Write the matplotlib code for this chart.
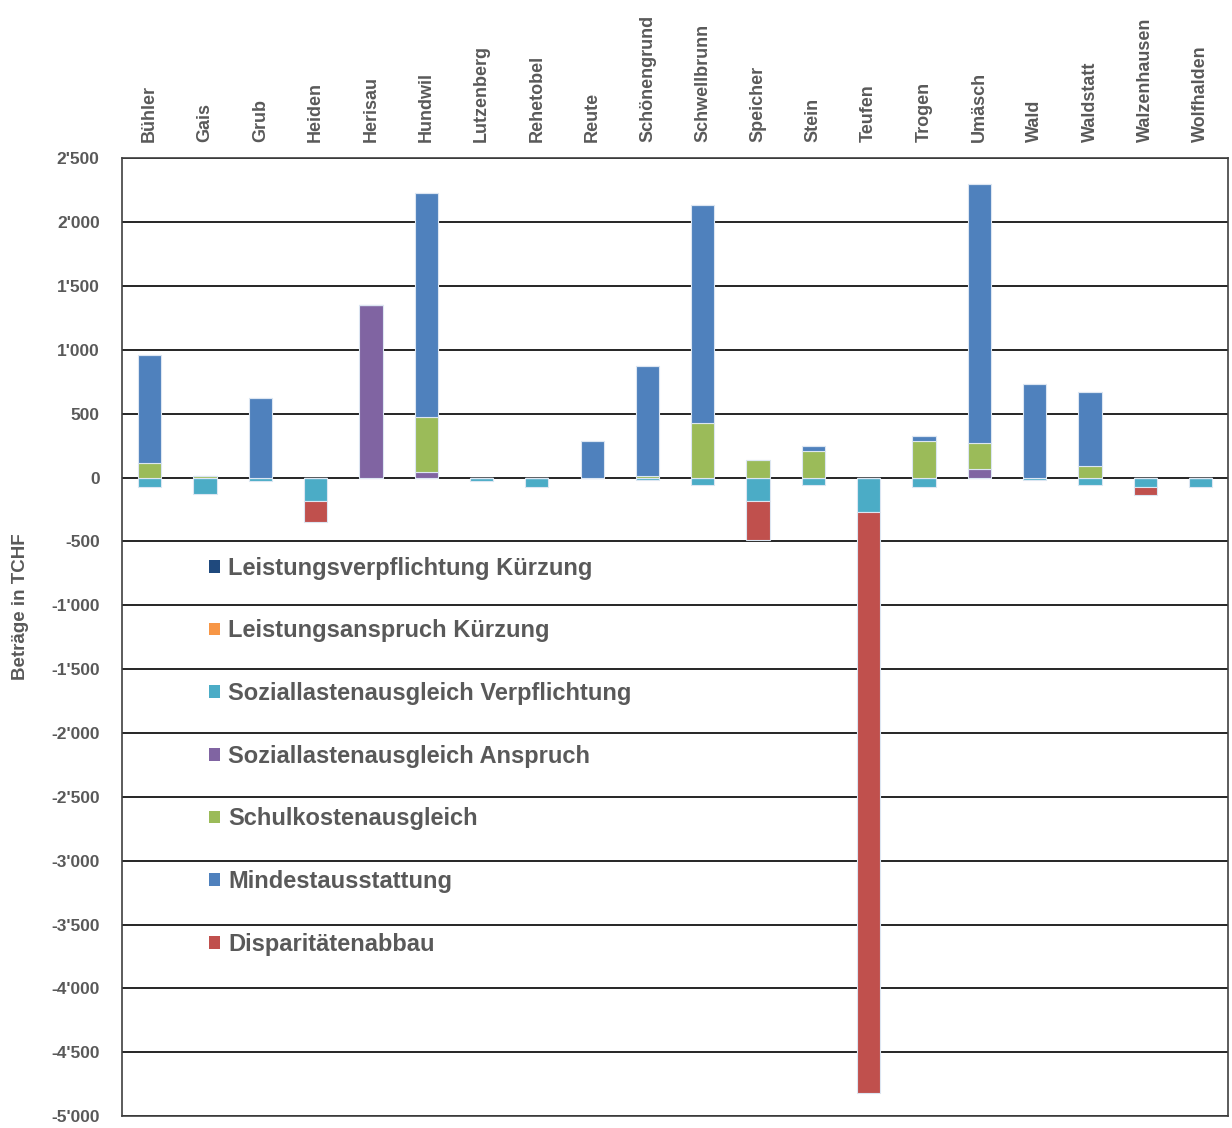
import numpy as np
import matplotlib
matplotlib.use("Agg")
import matplotlib.pyplot as plt
from matplotlib.ticker import FuncFormatter
from matplotlib.patches import Patch

plt.rcParams["font.family"] = ["Liberation Sans", "DejaVu Sans"]

gemeinden = ["Bühler", "Gais", "Grub", "Heiden", "Herisau", "Hundwil", "Lutzenberg",
             "Rehetobel", "Reute", "Schönengrund", "Schwellbrunn", "Speicher", "Stein",
             "Teufen", "Trogen", "Umäsch", "Wald", "Waldstatt", "Walzenhausen", "Wolfhalden"]

leist_verpf = [0, 0, 0, 0, 0, 0, 0, 0, 0, 0, 0, 0, 0, 0, 0, 0, 0, 0, 0, 0]
leist_anspr = [0, 0, 0, 0, 0, 0, 0, 0, 0, 0, 0, 0, 0, 0, 0, 0, 0, 0, 0, 0]
sozial_verpf = [-70, -125, -30, -180, 0, 0, -30, -70, 0, -20, -60, -180, -60, -268, -70, 0, -15, -60, -76, -70]
sozial_anspr = [0, 0, 0, 0, 1355, 40, 0, 0, 0, 0, 0, 0, 0, 0, 0, 68, 0, 0, 0, 0]
schulkosten = [115, 15, 0, 0, 0, 438, 0, 0, 0, 15, 428, 141, 206, 0, 284, 204, 0, 88, 0, 0]
mindest = [848, 0, 620, 0, 0, 1752, 0, 0, 284, 862, 1710, 0, 39, 0, 39, 2028, 734, 583, 0, 0]
disparitaet = [0, 0, 0, -165, 0, 0, 0, 0, 0, 0, 0, -305, 0, -4552, 0, 0, 0, 0, -62, 0]

serien = [
    ("Leistungsverpflichtung Kürzung", leist_verpf, "#1F497D"),
    ("Leistungsanspruch Kürzung", leist_anspr, "#F79646"),
    ("Soziallastenausgleich Verpflichtung", sozial_verpf, "#4BACC6"),
    ("Soziallastenausgleich Anspruch", sozial_anspr, "#8064A2"),
    ("Schulkostenausgleich", schulkosten, "#9BBB59"),
    ("Mindestausstattung", mindest, "#4F81BD"),
    ("Disparitätenabbau", disparitaet, "#C0504D"),
]

grau = "#595959"
fig = plt.figure(figsize=(12.32, 11.28), dpi=100)
ax = fig.add_axes([0.099, 0.0106, 0.898, 0.849])

x = np.arange(len(gemeinden))
pos_base = np.zeros(len(gemeinden))
neg_base = np.zeros(len(gemeinden))
for name, vals, col in serien:
    v = np.array(vals, dtype=float)
    base = np.where(v >= 0, pos_base, neg_base)
    ax.bar(x, v, 0.42, bottom=base, color=col, edgecolor="#DCE6F2", linewidth=0.8, zorder=3)
    pos_base += np.where(v > 0, v, 0)
    neg_base += np.where(v < 0, v, 0)

ax.set_xlim(-0.5, len(gemeinden) - 0.5)
ax.set_ylim(-5000, 2500)
ax.set_yticks(np.arange(-5000, 2501, 500))
ax.yaxis.set_major_formatter(FuncFormatter(lambda v, p: f"{int(v):,}".replace(",", "'")))
ax.grid(axis="y", color="black", lw=1.2, zorder=1)
ax.set_axisbelow(True)

ax.xaxis.tick_top()
ax.set_xticks(x)
ax.set_xticklabels(gemeinden, rotation=90, fontsize=13, fontweight="bold", color=grau)
ax.tick_params(axis="x", length=0, pad=12)
ax.tick_params(axis="y", length=0, pad=16, labelsize=12.5, labelcolor=grau)
for t in ax.get_yticklabels():
    t.set_fontweight("bold")
for s in ax.spines.values():
    s.set_color("#404040")
    s.set_linewidth(1.2)

ax.set_ylabel("Beträge in TCHF", fontsize=13.5, fontweight="bold", color=grau)
ax.yaxis.set_label_coords(-0.084, 0.532)

handles = [Patch(facecolor=c, edgecolor="none") for _, _, c in serien]
ax.legend(handles, [n for n, _, _ in serien], loc="upper left", bbox_to_anchor=(0.079, 0.584),
          frameon=False, handlelength=0.45, handleheight=0.45, handletextpad=0.35,
          labelspacing=1.68, borderpad=0, borderaxespad=0,
          prop={"weight": "bold", "size": 17}, labelcolor=grau)

fig.savefig("out.png", dpi=100)
